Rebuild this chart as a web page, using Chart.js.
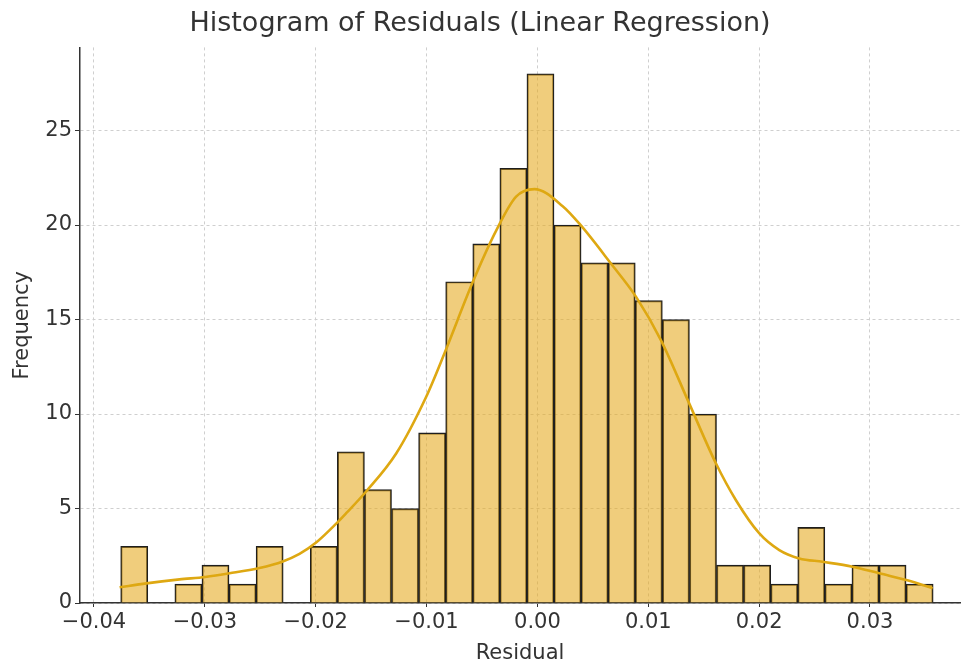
<!DOCTYPE html>
<html>
<head>
<meta charset="utf-8">
<script src="https://cdn.jsdelivr.net/npm/chart.js@4"></script>
<style>
  html, body { margin: 0; padding: 0; background: #fff; }
  canvas { display: block; }
</style>
</head>
<body>
<canvas id="histChart" width="963" height="666"></canvas>
<script>
// histogram bins (30 equal bins)
const binStart = -0.03759;
const binWidth = 0.002443;
const counts = [3, 0, 1, 2, 1, 3, 0, 3, 8, 6, 5, 9, 17, 19, 23, 28, 20, 18, 18, 16, 15, 10, 2, 2, 1, 4, 1, 2, 2, 1];

// KDE curve
const kdeX = [-0.03769, -0.03528, -0.03228, -0.02996, -0.02777, -0.02507, -0.02297, -0.02146, -0.01996, -0.01815,
  -0.01725, -0.01545, -0.01274, -0.01004, -0.00839, -0.00583, -0.00372, -0.00192, -0.00027, 0.00228,
  0.00379, 0.00665, 0.0089, 0.01115, 0.0137, 0.01611, 0.01791, 0.02002, 0.02182,
  0.02362, 0.02573, 0.02843, 0.03084, 0.03384, 0.03565];
const kdeY = [0.83, 1.04, 1.25, 1.38, 1.57, 1.85, 2.2, 2.6, 3.2, 4.2,
  4.75, 5.9, 7.91, 10.9, 13.2, 16.98, 19.7, 21.5, 21.9, 21.0,
  20.07, 17.95, 16.2, 13.9, 10.55, 7.38, 5.44, 3.68, 2.8,
  2.36, 2.18, 1.92, 1.57, 1.13, 0.78];

const xTicks = [-0.04, -0.03, -0.02, -0.01, 0.0, 0.01, 0.02, 0.03];
const yTicks = [0, 5, 10, 15, 20, 25];

const barData = counts.map((c, i) => ({ x: binStart + (i + 0.5) * binWidth, y: c }));
const kdeData = kdeX.map((x, i) => ({ x: x, y: kdeY[i] }));

const fontFamily = "'DejaVu Sans', sans-serif";
const textColor = "#333333";

const ctx = document.getElementById("histChart").getContext("2d");

new Chart(ctx, {
  type: "bar",
  data: {
    datasets: [
      {
        type: "line",
        label: "KDE",
        data: kdeData,
        borderColor: "#dea812",
        borderWidth: 2.6,
        pointRadius: 0,
        cubicInterpolationMode: "monotone",
        fill: false,
        order: 0,
      },
      {
        label: "Residuals",
        data: barData,
        backgroundColor: "rgba(230, 168, 30, 0.58)",
        borderColor: "#1e1e1e",
        borderWidth: 1.3,
        borderSkipped: "start",
        barPercentage: 1,
        categoryPercentage: 1,
        grouped: false,
        order: 1,
      },
    ],
  },
  options: {
    responsive: false,
    animation: false,
    layout: { padding: { left: 0, right: 3, top: 0, bottom: 0 } },
    plugins: {
      legend: { display: false },
      tooltip: { enabled: false },
      title: {
        display: true,
        text: "Histogram of Residuals (Linear Regression)",
        color: textColor,
        font: { family: fontFamily, size: 27, weight: "normal" },
        padding: { top: 8, bottom: 7 },
      },
    },
    scales: {
      x: {
        type: "linear",
        min: -0.04126,
        max: 0.03812,
        offset: false,
        afterBuildTicks: (scale) => {
          scale.ticks = xTicks.map((v) => ({ value: v }));
        },
        afterFit: (scale) => {
          scale.height = 63;
        },
        ticks: {
          color: textColor,
          font: { family: fontFamily, size: 21 },
          padding: 3,
          maxRotation: 0,
          callback: (v) => (v < -1e-9 ? "\u2212" : "") + Math.abs(v).toFixed(2),
        },
        grid: {
          offset: false,
          color: "#cfcfcf",
          lineWidth: 1,
          tickColor: "#333333",
          tickLength: 4,
        },
        border: { display: true, color: "#333333", width: 1.5, dash: [3, 3] },
        title: {
          display: true,
          text: "Residual",
          color: textColor,
          font: { family: fontFamily, size: 21 },
          padding: { top: 0, bottom: 0 },
        },
      },
      y: {
        min: 0,
        max: 29.4,
        afterBuildTicks: (scale) => {
          scale.ticks = yTicks.map((v) => ({ value: v }));
        },
        afterFit: (scale) => {
          scale.width = 80;
        },
        ticks: {
          color: textColor,
          font: { family: fontFamily, size: 21 },
          padding: 3,
        },
        grid: {
          offset: false,
          color: "#cfcfcf",
          lineWidth: 1,
          tickColor: "#333333",
          tickLength: 5,
        },
        border: { display: true, color: "#333333", width: 1.5, dash: [3, 3] },
        title: {
          display: true,
          text: "Frequency",
          color: textColor,
          font: { family: fontFamily, size: 21 },
          padding: { top: 10, bottom: 0 },
        },
      },
    },
  },
});
</script>
</body>
</html>
